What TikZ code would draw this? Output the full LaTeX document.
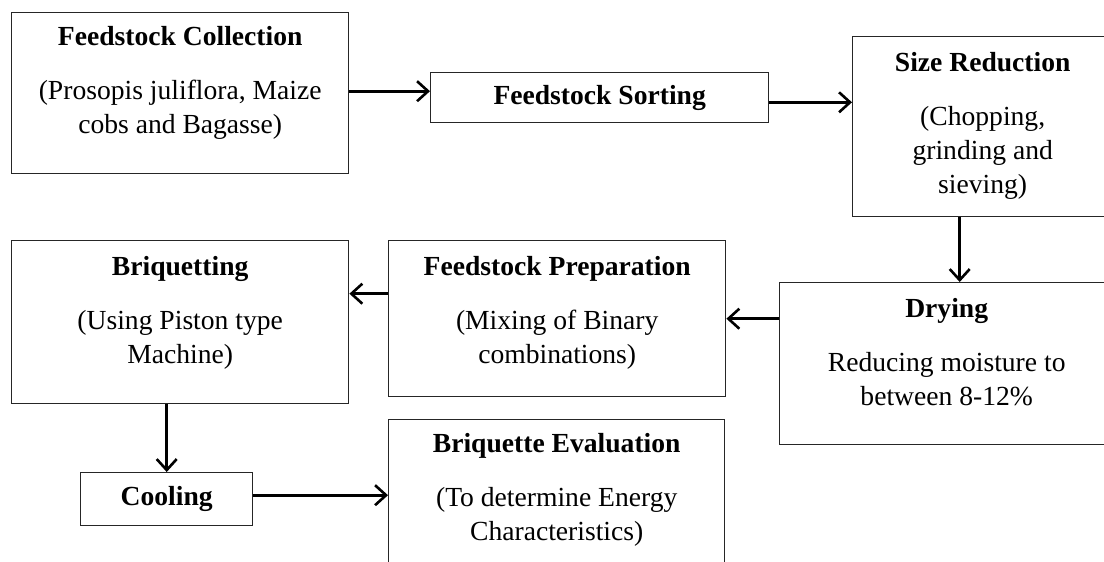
\documentclass[tikz,border=0pt]{standalone}
\usepackage{fontspec}
\setmainfont{Liberation Serif}
\usetikzlibrary{positioning,arrows.meta}

\tikzset{
  stepbox/.style={draw=black!85, line width=0.7pt, fill=white, anchor=north west, inner sep=0pt},
  steptext/.style={align=center, inner sep=0pt, font=\fontsize{13.8}{17}\selectfont},
  flow/.style={line width=1.3pt, -{Straight Barb[length=5.5pt,width=10pt]}}
}

\begin{document}
\begin{tikzpicture}[x=0.5pt, y=-0.5pt]
    \useasboundingbox (0,0) rectangle (1104,562);
    \fill[white] (0,0) rectangle (1104,562);
    \clip (0,0) rectangle (1104,562);

    % Process boxes
    \node[stepbox, minimum width=168.5pt, minimum height=80.5pt] (collect) at (11,12) {};
    \node[stepbox, steptext, minimum width=169pt, minimum height=25pt] (sort) at (430,72) {\textbf{Feedstock Sorting}};
    \node[stepbox, minimum width=130pt, minimum height=90pt] (sizered) at (852,36) {};
    \node[stepbox, minimum width=167pt, minimum height=81pt] (dry) at (779,282) {};
    \node[stepbox, minimum width=168.5pt, minimum height=78pt] (prep) at (388,240) {};
    \node[stepbox, minimum width=168.5pt, minimum height=81.5pt] (briq) at (11,240) {};
    \node[stepbox, steptext, minimum width=86pt, minimum height=26.5pt] (cool) at (80,472) {\textbf{Cooling}};
    \node[stepbox, minimum width=168pt, minimum height=85pt] (eval) at (388,419) {};

    % Box texts
    \node[steptext, below=7pt of collect.north] (collecttxt) {\textbf{Feedstock Collection}\\[10pt](Prosopis juliflora, Maize\\cobs and Bagasse)};
    \node[steptext, below=8pt of sizered.north] (sizeredtxt) {\textbf{Size Reduction}\\[10pt](Chopping,\\grinding and\\sieving)};
    \node[steptext, below=8pt of dry.north] (drytxt) {\textbf{Drying}\\[10pt]Reducing moisture to\\between 8-12\%};
    \node[steptext, below=8pt of prep.north] (preptxt) {\textbf{Feedstock Preparation}\\[10pt](Mixing of Binary\\combinations)};
    \node[steptext, below=8pt of briq.north] (briqtxt) {\textbf{Briquetting}\\[10pt](Using Piston type\\Machine)};
    \node[steptext, below=7pt of eval.north] (evaltxt) {\textbf{Briquette Evaluation}\\[10pt](To determine Energy\\Characteristics)};

    % Flow arrows
    \draw[flow] ([yshift=1pt]collect.east) -- ([yshift=1pt]collect.east -| sort.west);
    \draw[flow] ([yshift=-2.3pt]sort.east) -- ([yshift=-2.3pt]sort.east -| sizered.west);
    \draw[flow] ([xshift=-11.5pt]sizered.south) -- ([xshift=-11.5pt]sizered.south |- dry.north);
    \draw[flow] (prep.east -| dry.west) -- (prep.east);
    \draw[flow] ([yshift=12.5pt]prep.west) -- ([yshift=12.5pt]prep.west -| briq.east);
    \draw[flow] (cool.north |- briq.south) -- (cool.north);
    \draw[flow] ([yshift=2pt]cool.east) -- ([yshift=2pt]cool.east -| eval.west);
\end{tikzpicture}
\end{document}
